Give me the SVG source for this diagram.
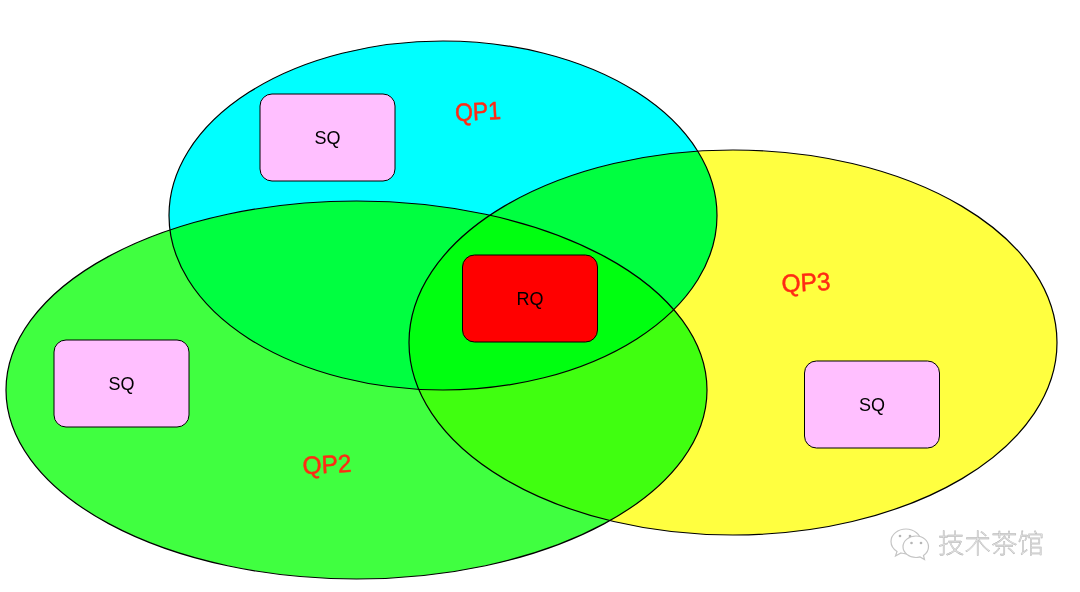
<svg xmlns="http://www.w3.org/2000/svg" width="1080" height="592" viewBox="0 0 1080 592">
<style>
.set{stroke:#000;stroke-width:1.200;mix-blend-mode:multiply}
.box{stroke:#000;stroke-width:1}
.lbl{font-family:"Liberation Sans",Arial,sans-serif;font-size:18px;fill:#000;text-anchor:middle}
.qp{font-family:"Liberation Sans",Arial,sans-serif;font-size:25px;fill:#ff2a14;stroke:#ff2a14;stroke-width:.5;text-anchor:middle}
.wm{font-family:"Noto Sans CJK SC",sans-serif;font-size:26.500px;font-weight:300;fill:#e2e2e2;stroke:#a8a8a8;stroke-width:.35}
.bub{fill:#fff;stroke:#c4c4c4;stroke-width:1.200}
.eye{fill:#b5b5b5}
</style>
<rect width="1080" height="592" fill="#fff"/>
<g style="isolation:isolate">
<g id="qp1"><ellipse class="set" cx="443" cy="215.500" rx="274" ry="174.500" fill="#00ffff"/></g>
<g id="qp3"><ellipse class="set" cx="733" cy="342.500" rx="324" ry="192.500" fill="#ffff40"/></g>
<g id="qp2"><ellipse class="set" cx="356.500" cy="390" rx="350.500" ry="189" fill="#40ff40"/></g>
</g>
<g id="sq1"><rect class="box" x="260" y="94" width="135" height="87" rx="12" fill="#ffbfff"/><text class="lbl" x="327.500" y="144">SQ</text></g>
<g id="rq"><rect class="box" x="462.500" y="255" width="135" height="87" rx="12" fill="#ff0000"/><text class="lbl" x="530" y="305">RQ</text></g>
<g id="sq2"><rect class="box" x="54" y="340" width="135" height="87" rx="12" fill="#ffbfff"/><text class="lbl" x="121.500" y="390">SQ</text></g>
<g id="sq3"><rect class="box" x="804.500" y="361" width="135" height="87" rx="12" fill="#ffbfff"/><text class="lbl" x="872" y="411">SQ</text></g>
<text class="qp" x="478" y="120" textLength="46" lengthAdjust="spacingAndGlyphs" transform="rotate(-3 478 112)">QP1</text>
<text class="qp" x="327" y="473" textLength="49" lengthAdjust="spacingAndGlyphs" transform="rotate(-3 327 465)">QP2</text>
<text class="qp" x="806" y="291" textLength="49" lengthAdjust="spacingAndGlyphs" transform="rotate(-3 806 283)">QP3</text>
<g id="watermark">
<path class="bub" d="M906 529c-8 0-15 5.500-15 12.500 0 4 2.200 7.500 6 10l-1.500 4.500 5.500-3c2 .5 3.500.8 5 .8 8 0 15-5.500 15-12.300s-7-12.500-15-12.500z"/>
<path class="bub" d="M916 536c-7 0-13 4.800-13 10.800s6 10.700 13 10.700c1.500 0 2.800-.3 4-.6l4.500 2.600-1-4c3.300-2.200 5-5.300 5-8.700 0-6-5.500-10.800-12.500-10.800z"/>
<circle class="eye" cx="900" cy="536" r="1.300"/><circle class="eye" cx="910" cy="536" r="1.300"/>
<circle class="eye" cx="911.500" cy="543" r="1.300"/><circle class="eye" cx="921" cy="543" r="1.300"/>
<text class="wm" x="938" y="553">技术茶馆</text>
</g>
</svg>
